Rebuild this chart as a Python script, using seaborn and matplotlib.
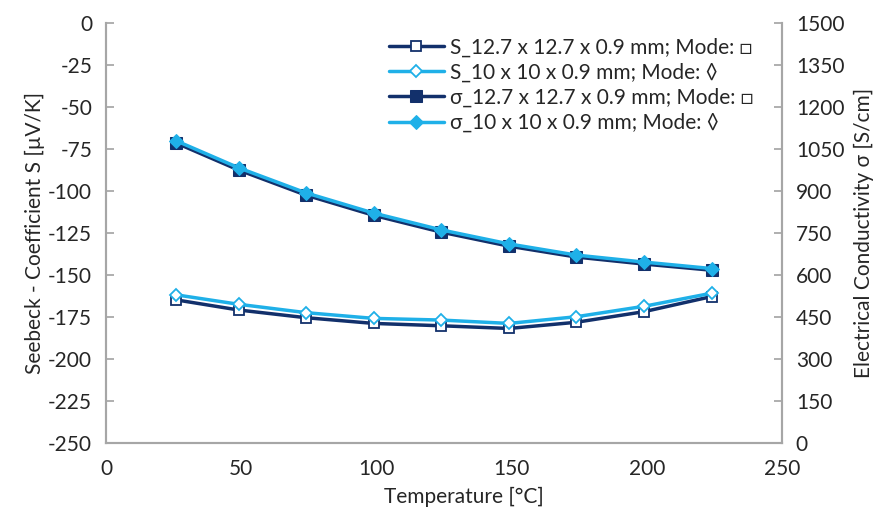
import numpy as np
import matplotlib
matplotlib.use("Agg")
from matplotlib import pyplot as plt
import seaborn as sns

sns.set_theme(style="white")
plt.rcParams['font.family'] = ['Lato', 'DejaVu Sans']
plt.rcParams['axes.unicode_minus'] = False

# data
temp = [26, 49, 74, 99, 124, 149, 174, 199, 224]
S_big = [-165, -171, -175.6, -179, -180.4, -182, -178.3, -172, -163]
S_small = [-162, -167.6, -172.6, -176, -177, -179, -175, -168.8, -161]
sig_big = [1070, 974, 884, 812, 752, 702, 663, 638, 616]
sig_small = [1078, 982, 892, 820, 760, 710, 670, 645, 622]

lab_S_big = 'S_12.7 x 12.7 x 0.9 mm; Mode: \u25a1'
lab_S_small = 'S_10 x 10 x 0.9 mm; Mode: \u25ca'
lab_sig_big = '\u03c3_12.7 x 12.7 x 0.9 mm; Mode: \u25a1'
lab_sig_small = '\u03c3_10 x 10 x 0.9 mm; Mode: \u25ca'

dark = '#12306b'
light = '#1fb0e8'
grey = '#a6a6a6'
fs = 15

fig = plt.figure(figsize=(8.74, 5.13), dpi=100)
ax = fig.add_axes([0.1213, 0.137, 0.7734, 0.8188])
ax2 = ax.twinx()

sns.lineplot(x=temp, y=S_big, ax=ax, color=dark, marker='s', markersize=7,
             markerfacecolor='white', markeredgecolor=dark, markeredgewidth=1.3,
             linewidth=2.5, label=lab_S_big, legend=False)
sns.lineplot(x=temp, y=S_small, ax=ax, color=light, marker='D', markersize=6,
             markerfacecolor='white', markeredgecolor=light, markeredgewidth=1.3,
             linewidth=2.5, label=lab_S_small, legend=False)
sns.lineplot(x=temp, y=sig_big, ax=ax2, color=dark, marker='s', markersize=8,
             markerfacecolor=dark, markeredgecolor=dark,
             linewidth=2.5, label=lab_sig_big, legend=False)
sns.lineplot(x=temp, y=sig_small, ax=ax2, color=light, marker='D', markersize=7,
             markerfacecolor=light, markeredgecolor=light,
             linewidth=2.5, label=lab_sig_small, legend=False)

ax.set_xlim(0, 250)
ax.set_ylim(-250, 0)
ax2.set_ylim(0, 1500)
ax.set_xticks(np.arange(0, 251, 50))
ax.set_yticks(np.arange(-250, 1, 25))
ax2.set_yticks(np.arange(0, 1501, 150))

for a in (ax, ax2):
    for s in a.spines.values():
        s.set_color(grey)
        s.set_linewidth(1.5)
    a.spines['top'].set_visible(False)
    a.grid(False)

ax.tick_params(axis='y', direction='in', length=6, color=grey, labelsize=fs, pad=10)
ax.tick_params(axis='x', length=0, labelsize=fs, pad=12)
ax2.tick_params(axis='y', direction='in', length=6, color=grey, labelsize=fs, pad=10)

ax.set_xlabel('Temperature [\u00b0C]', fontsize=fs, labelpad=1)
ax.xaxis.set_label_coords(0.53, -0.105)
ax.set_ylabel('Seebeck - Coefficient S [\u00b5V/K]', fontsize=fs, labelpad=2)
ax2.set_ylabel('Electrical Conductivity \u03c3 [S/cm]', fontsize=fs, labelpad=7)

handles = ax.get_lines()[:2] + ax2.get_lines()[:2]
labels = [lab_S_big, lab_S_small, lab_sig_big, lab_sig_small]
ax.legend(handles, labels, loc='upper right', bbox_to_anchor=(0.985, 1.01),
          frameon=False, fontsize=fs, handlelength=2.6, labelspacing=0.25,
          handletextpad=0.3)

fig.savefig('out.png', dpi=100)
